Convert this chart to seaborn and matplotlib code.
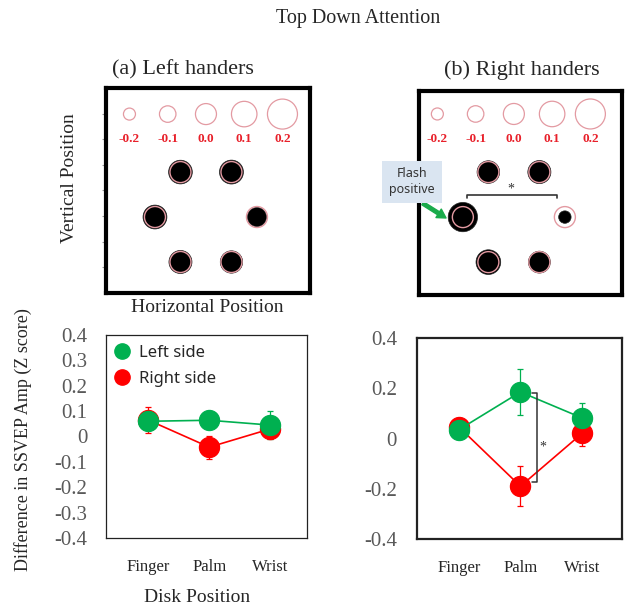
import numpy as np
import pandas as pd
import matplotlib
matplotlib.use("Agg")
import matplotlib.pyplot as plt
import seaborn as sns
from matplotlib.lines import Line2D

# Disk positions on the hand and the two stimulated sides
positions = ["Finger", "Palm", "Wrist"]
sides = ["Left side", "Right side"]

# Difference in SSVEP amplitude (Z score), mean and error
lh_left = [0.060, 0.064, 0.045]
lh_left_err = [0.030, 0.020, 0.055]
lh_right = [0.065, -0.042, 0.030]
lh_right_err = [0.050, 0.045, 0.040]

rh_left = [0.035, 0.185, 0.082]
rh_left_err = [0.020, 0.090, 0.060]
rh_right = [0.046, -0.190, 0.020]
rh_right_err = [0.035, 0.080, 0.050]

# size key of the schematic
scale_values = [-0.2, -0.1, 0.0, 0.1, 0.2]
scale_labels = ["-0.2", "-0.1", "0.0", "0.1", "0.2"]

# schematic layout: horizontal offset from midline and row for each position
disk_offset = [0.5, 1.0, 0.5]
disk_row = [1, 0, -1]

GREEN = "#00b050"
RED = "#ff0000"
RING = "#e39aa2"

sns.set_style("white")
plt.rcParams["font.family"] = ["Liberation Serif", "DejaVu Serif"]

W, H = 630, 607
fig = plt.figure(figsize=(W / 100, H / 100), dpi=100)


def px_rect(l, t, r, b):
    return [l / W, 1 - b / H, (r - l) / W, (b - t) / H]


def px_text(x, y, s, **kw):
    fig.text(x / W, 1 - y / H, s, ha="center", va="center", **kw)


def disk_size(v):
    # marker area (pt^2) from a value: radius 10.5 px at 0, 22.5 px per unit
    r = 10.5 + 22.5 * np.asarray(v)
    return (2 * r * 0.72) ** 2


def draw_schematic(ax, left_vals, right_vals, xlim, ylim):
    rows = []
    for i, pos in enumerate(positions):
        rows.append({"position": pos, "side": "Left side",
                     "x": -disk_offset[i], "y": disk_row[i], "value": left_vals[i]})
        rows.append({"position": pos, "side": "Right side",
                     "x": disk_offset[i], "y": disk_row[i], "value": right_vals[i]})
    df = pd.DataFrame(rows)
    sns.scatterplot(data=df, x="x", y="y", s=disk_size(df["value"].to_numpy()),
                    color="black", edgecolor="#222", linewidth=0.5,
                    legend=False, zorder=3, ax=ax)
    ax.scatter(df["x"], df["y"], s=disk_size(0.0), facecolors="none",
               edgecolors=RING, linewidths=1.0, zorder=4)
    kx = np.linspace(-1.5, 1.5, len(scale_values))
    ax.scatter(kx, [2.29] * len(kx), s=disk_size(scale_values), facecolors="none",
               edgecolors=RING, linewidths=0.9, zorder=3)
    for x, lab in zip(kx, scale_labels):
        ax.text(x, 1.74, lab, ha="center", va="center", color="#e8202a",
                fontsize=9.5, fontweight="bold")
    ax.set_xlim(xlim)
    ax.set_ylim(ylim)
    ax.set_xlabel("")
    ax.set_ylabel("")
    ax.set_xticks([])
    for sp in ax.spines.values():
        sp.set_linewidth(3)
        sp.set_color("black")


# ---- top: schematics ----
ax_a = fig.add_axes(px_rect(106, 88, 310, 293))
draw_schematic(ax_a, lh_left, lh_right, (-1.96, 2.04), (-1.69, 2.87))
ax_a.set_yticks(np.linspace(-1.69, 2.87, 9)[1:-1])
ax_a.tick_params(axis="y", left=True, length=3, width=0.8, color="#999999", labelleft=False)

ax_b = fig.add_axes(px_rect(419, 91, 622, 295))
draw_schematic(ax_b, rh_left, rh_right, (-1.86, 2.12), (-1.73, 2.80))
ax_b.set_yticks([])
ax_b.plot([-0.92, -0.92, 0.84, 0.84], [0.42, 0.49, 0.49, 0.42], color="#333", lw=1.2, zorder=3)
ax_b.text(-0.05, 0.62, "*", ha="center", va="center", fontsize=10, color="#333")
ax_b.annotate("Flash\npositive", xy=(-1.33, -0.02), xytext=(-2.0, 0.78),
              ha="center", va="center", fontsize=9, color="#333",
              family=["Noto Sans", "DejaVu Sans"], linespacing=1.3,
              bbox=dict(boxstyle="square,pad=0.55", fc="#dae5f1", ec="none"),
              arrowprops=dict(arrowstyle="simple,head_length=0.7,head_width=0.8,tail_width=0.28",
                              color="#1aab4b", relpos=(0.5, 0), shrinkA=0, shrinkB=0),
              annotation_clip=False, zorder=10)


# ---- bottom: line plots ----
def draw_lines(ax, left_vals, left_err, right_vals, right_err, yticks, xlim, spine_lw, ypad):
    df = pd.DataFrame({
        "position": positions * 2,
        "side": ["Left side"] * 3 + ["Right side"] * 3,
        "value": left_vals + right_vals,
    })
    sns.pointplot(data=df, x="position", y="value", hue="side", order=positions,
                  hue_order=["Right side", "Left side"],
                  palette={"Left side": GREEN, "Right side": RED},
                  errorbar=None, markers="o", markersize=14.5, linewidth=1.2,
                  dodge=False, legend=False, ax=ax)
    xs = np.arange(len(positions))
    for vals, errs, col in [(right_vals, right_err, RED), (left_vals, left_err, GREEN)]:
        ax.errorbar(xs, vals, yerr=errs, fmt="none", ecolor=col, elinewidth=0.9,
                    capsize=2.5, capthick=0.9, zorder=1)
    ax.set_xlim(xlim)
    ax.set_ylim(-0.4, 0.4)
    ax.set_yticks(yticks)
    ax.set_yticklabels([f"{round(v, 1):g}" if abs(v) > 1e-9 else "0" for v in yticks])
    ax.tick_params(axis="y", length=0, pad=ypad, labelsize=15, labelcolor="#595959")
    ax.tick_params(axis="x", length=0, pad=15, labelsize=12, labelcolor="#262626")
    ax.set_xlabel("")
    ax.set_ylabel("")
    for sp in ax.spines.values():
        sp.set_linewidth(spine_lw)
        sp.set_color("#222")


ax_c = fig.add_axes(px_rect(106, 335, 307, 538))
draw_lines(ax_c, lh_left, lh_left_err, lh_right, lh_right_err,
           np.round(np.arange(0.4, -0.41, -0.1), 1), (-0.69, 2.6), 0.9, 13.5)
handles = [Line2D([], [], marker="o", linestyle="none", markersize=11, color=c) for c in (GREEN, RED)]
ax_c.legend(handles, sides, loc="upper left", bbox_to_anchor=(-0.01, 1.0), frameon=False,
            prop={"family": ["Noto Sans", "DejaVu Sans"], "size": 12},
            handlelength=1.0, handletextpad=0.5, labelspacing=0.62,
            borderaxespad=0.3, borderpad=0.3, labelcolor="#262626")

ax_d = fig.add_axes(px_rect(417, 338, 622, 539))
draw_lines(ax_d, rh_left, rh_left_err, rh_right, rh_right_err,
           np.round(np.arange(0.4, -0.41, -0.2), 1), (-0.68, 2.65), 1.6, 14.4)
ax_d.plot([1.19, 1.27, 1.27, 1.19], [0.18, 0.18, -0.175, -0.175], color="#333", lw=1.1)
ax_d.text(1.37, -0.035, "*", ha="center", va="center", fontsize=10, color="#333")

# ---- figure text ----
px_text(358, 18, "Top Down Attention", fontsize=14.5)
px_text(183, 70, "(a) Left handers", fontsize=16)
px_text(522, 70, "(b) Right handers", fontsize=16)
px_text(70, 178, "Vertical Position", fontsize=14, rotation=90)
px_text(207, 308, "Horizontal Position", fontsize=14)
px_text(23, 440, "Difference in SSVEP Amp (Z score)", fontsize=13, rotation=90)
px_text(197, 598, "Disk Position", fontsize=14)

fig.savefig("out.png", dpi=100)
